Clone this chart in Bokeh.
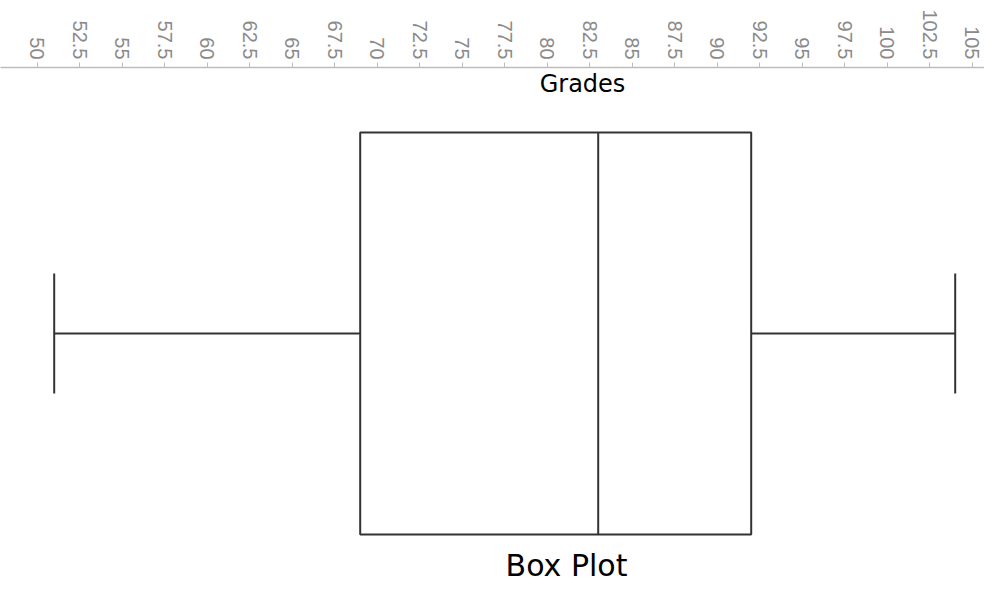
import math
from bokeh.plotting import figure
from bokeh.models import Range1d, FixedTicker, Label
from bokeh.embed import file_html
from bokeh.resources import INLINE

# ---- data ----
category = ["Grades"]
whisker_low = [51]
q1 = [69]
median = [83]
q3 = [92]
whisker_high = [104]
tick_values = [50, 52.5, 55, 57.5, 60, 62.5, 65, 67.5, 70, 72.5, 75, 77.5, 80,
               82.5, 85, 87.5, 90, 92.5, 95, 97.5, 100, 102.5, 105]
tick_labels = ["50", "52.5", "55", "57.5", "60", "62.5", "65", "67.5", "70", "72.5",
               "75", "77.5", "80", "82.5", "85", "87.5", "90", "92.5", "95", "97.5",
               "100", "102.5", "105"]
title_text = "Box Plot"

# ---- layout constants ----
W, H = 984, 584
px_per_unit = 17.0
x_start = 50 - 36.7 / px_per_unit
x_end = x_start + W / px_per_unit

p = figure(width=W, height=H, output_backend="svg", toolbar_location=None,
           x_range=Range1d(x_start, x_end), y_range=Range1d(-251, 266),
           x_axis_location="above", y_axis_location=None,
           min_border_left=0, min_border_right=0, min_border_bottom=0,
           min_border_top=67)
p.outline_line_color = None
p.xgrid.visible = False
p.ygrid.visible = False
p.background_fill_color = "white"
p.border_fill_color = "white"

ax = p.xaxis[0]
ax.ticker = FixedTicker(ticks=tick_values, minor_ticks=[])
ax.major_label_overrides = {v: s for v, s in zip(tick_values, tick_labels)}
ax.major_label_orientation = -math.pi / 2
ax.major_label_text_font = "Liberation Sans"
ax.major_label_text_font_size = "20px"
ax.major_label_text_color = "#8a8a8a"
ax.major_label_standoff = 3
ax.major_tick_in = 0
ax.major_tick_out = 5
ax.minor_tick_in = 0
ax.minor_tick_out = 0
ax.axis_line_color = "#bdbdbd"
ax.axis_line_width = 1.5
ax.major_tick_line_color = "#bdbdbd"

line_col = "#333333"
lw = 2
box_half = 201
cap_half = 60

# box
p.quad(left=q1, right=q3, bottom=[-box_half], top=[box_half],
       fill_color="white", line_color=line_col, line_width=lw)
# median
p.segment(x0=median, x1=median, y0=[-box_half], y1=[box_half],
          line_color=line_col, line_width=lw)
# whiskers
p.segment(x0=whisker_low, x1=q1, y0=[0], y1=[0], line_color=line_col, line_width=lw)
p.segment(x0=q3, x1=whisker_high, y0=[0], y1=[0], line_color=line_col, line_width=lw)
# caps
p.segment(x0=whisker_low + whisker_high, x1=whisker_low + whisker_high,
          y0=[-cap_half, -cap_half], y1=[cap_half, cap_half],
          line_color=line_col, line_width=lw)

# axis title (below axis line) and chart title (bottom)
p.add_layout(Label(x=50 + (582 - 36.7) / px_per_unit, y=250, text=category[0],
                   text_align="center", text_baseline="alphabetic",
                   text_font="DejaVu Sans", text_font_size="24px",
                   text_color="black"))
p.add_layout(Label(x=50 + (566 - 36.7) / px_per_unit, y=-232, text=title_text,
                   text_align="center", text_baseline="alphabetic",
                   text_font="DejaVu Sans", text_font_size="30px",
                   text_color="black"))

open("out.html", "w").write(file_html(p, INLINE))
